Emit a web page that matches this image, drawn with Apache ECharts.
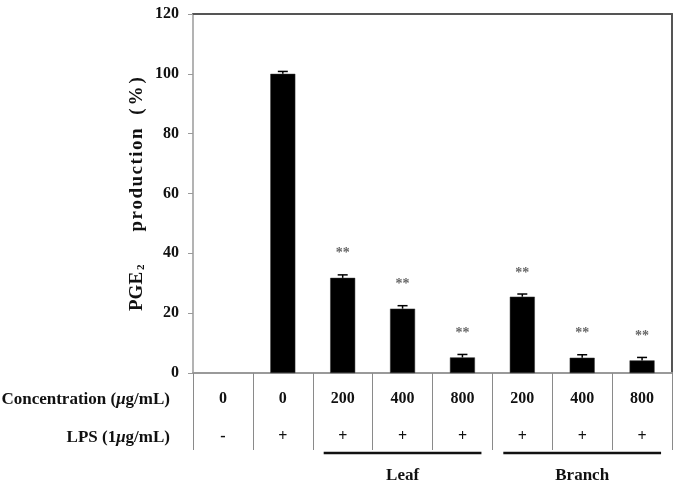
<!DOCTYPE html>
<html><head><meta charset="utf-8">
<script src="https://cdn.jsdelivr.net/npm/echarts@6/dist/echarts.min.js"></script>
<style>html,body{margin:0;padding:0;background:#fff}#c{width:676px;height:486px}</style>
</head><body><div id="c"></div>
<script>
// ---- data ----
const concentrations = ['0', '0', '200', '400', '800', '200', '400', '800'];
const lps = ['-', '+', '+', '+', '+', '+', '+', '+'];
const values = [null, 100, 31.8, 21.5, 5.2, 25.5, 5.1, 4.2];
const errors = [null, 0.8, 1.0, 1.0, 1.0, 0.9, 1.0, 1.0];
const marks = ['', '', '**', '**', '**', '**', '**', '**'];
const yTickLabels = ['0', '20', '40', '60', '80', '100', '120'];
const groupNames = ['Leaf', 'Branch'];
const groupFrom = [2, 5];
const groupTo = [4, 7];

const SERIF = "'Liberation Serif','Times New Roman',serif";
const chart = echarts.init(document.getElementById('c'), null, {renderer: 'canvas'});

function spaced(str, key) {
  return str.split('').map(c => '{' + key + '|' + c + '}').join('');
}

const option = {
  animation: false,
  backgroundColor: '#fff',
  grid: {left: 193, right: 4, top: 14, bottom: 113, containLabel: false},
  xAxis: [
    {
      type: 'category', data: concentrations, position: 'bottom',
      axisLine: {show: true, lineStyle: {color: '#9a9a9a', width: 2}},
      axisTick: {show: true, interval: 0, length: 77, lineStyle: {color: '#8a8a8a', width: 1}},
      axisLabel: {interval: 0, margin: 18, fontFamily: SERIF, fontWeight: 'bold', fontSize: 16, color: '#111'}
    },
    {
      type: 'category', data: lps, position: 'bottom', offset: 0,
      axisLine: {show: false}, axisTick: {show: false},
      axisLabel: {interval: 0, margin: 56, fontFamily: SERIF, fontWeight: 'bold', fontSize: 16, color: '#111'}
    },
    {
      type: 'category', data: concentrations, position: 'top',
      axisLine: {show: true, lineStyle: {color: '#555', width: 2}},
      axisTick: {show: false}, axisLabel: {show: false}
    }
  ],
  yAxis: [
    {
      type: 'value', min: 0, max: 120, interval: 20, position: 'left',
      splitLine: {show: false},
      axisLine: {show: true, lineStyle: {color: '#9a9a9a', width: 1.5}},
      axisTick: {show: true, length: 5, lineStyle: {color: '#9a9a9a'}},
      axisLabel: {
        margin: 14, fontFamily: SERIF, fontWeight: 'bold', fontSize: 16, color: '#111',
        formatter: (v) => yTickLabels[Math.round(v / 20)]
      }
    },
    {
      type: 'value', min: 0, max: 120, interval: 20, position: 'right',
      splitLine: {show: false},
      axisLine: {show: true, lineStyle: {color: '#555', width: 2}},
      axisTick: {show: false}, axisLabel: {show: false}
    }
  ],
  series: [
    {
      type: 'bar', xAxisIndex: 0, yAxisIndex: 0, data: values, barWidth: 25,
      itemStyle: {color: '#000', borderColor: '#333', borderWidth: 0.5}
    },
    {
      type: 'custom', xAxisIndex: 0, yAxisIndex: 0,
      data: values.map((v, i) => [i, v == null ? 0 : v]),
      renderItem: function (params, api) {
        const i = params.dataIndex;
        const v = values[i];
        if (v == null) return null;
        const e = errors[i];
        const base = api.coord([i, v]);
        const top = api.coord([i, v + e]);
        const children = [
          {type: 'line', shape: {x1: base[0], y1: base[1], x2: top[0], y2: top[1]}, style: {stroke: '#000', lineWidth: 1.5}},
          {type: 'line', shape: {x1: top[0] - 5, y1: top[1], x2: top[0] + 5, y2: top[1]}, style: {stroke: '#000', lineWidth: 1.5}}
        ];
        if (marks[i]) {
          children.push({
            type: 'text',
            style: {x: top[0], y: top[1] - 21, text: marks[i], fill: '#666', font: 'bold 14px ' + SERIF, textAlign: 'center', textVerticalAlign: 'middle'}
          });
        }
        return {type: 'group', children: children};
      },
      z: 5
    }
  ],
  graphic: [
    {
      type: 'text', x: 137, y: 311, rotation: Math.PI / 2,
      style: {
        text: '{a|PGE}{s|2}',
        textAlign: 'left', textVerticalAlign: 'middle',
        rich: {
          a: {fontFamily: SERIF, fontWeight: 'bold', fontSize: 19, fill: '#111'},
          s: {fontFamily: SERIF, fontWeight: 'bold', fontSize: 11, fill: '#111', padding: [8, 0, 0, 2]}
        }
      }
    },
    {
      type: 'text', x: 137, y: 180, rotation: Math.PI / 2,
      style: {
        text: spaced('production', 'a'),
        textAlign: 'center', textVerticalAlign: 'middle',
        rich: {a: {fontFamily: SERIF, fontWeight: 'bold', fontSize: 19, fill: '#111', padding: [0, 0.75, 0, 0.75]}}
      }
    },
    {
      type: 'text', x: 137, y: 96, rotation: Math.PI / 2,
      style: {
        text: spaced('(%)', 'a'),
        textAlign: 'center', textVerticalAlign: 'middle',
        rich: {a: {fontFamily: SERIF, fontWeight: 'bold', fontSize: 19, fill: '#111', padding: [0, 1.5, 0, 1.5]}}
      }
    },
    {
      type: 'text', x: 170, y: 400,
      style: {
        text: '{a|Concentration (}{m|μ}{a|g/mL)}', textAlign: 'right', textVerticalAlign: 'middle',
        rich: {
          a: {fontFamily: SERIF, fontWeight: 'bold', fontSize: 17, fill: '#111'},
          m: {fontFamily: SERIF, fontWeight: 'bold', fontStyle: 'italic', fontSize: 17, fill: '#111'}
        }
      }
    },
    {
      type: 'text', x: 170, y: 438,
      style: {
        text: '{a|LPS (1}{m|μ}{a|g/mL)}', textAlign: 'right', textVerticalAlign: 'middle',
        rich: {
          a: {fontFamily: SERIF, fontWeight: 'bold', fontSize: 17, fill: '#111'},
          m: {fontFamily: SERIF, fontWeight: 'bold', fontStyle: 'italic', fontSize: 17, fill: '#111'}
        }
      }
    }
  ]
};
chart.setOption(option);

// group underlines and names positioned from the category axis
const extra = [];
for (let g = 0; g < groupNames.length; g++) {
  const a = chart.convertToPixel({xAxisIndex: 0}, groupFrom[g]);
  const b = chart.convertToPixel({xAxisIndex: 0}, groupTo[g]);
  const x1 = a - 19, x2 = b + 19;
  extra.push({type: 'line', shape: {x1: x1, y1: 453, x2: x2, y2: 453}, style: {stroke: '#111', lineWidth: 2.5}});
  extra.push({
    type: 'text', x: (x1 + x2) / 2, y: 476,
    style: {text: groupNames[g], textAlign: 'center', textVerticalAlign: 'middle', font: 'bold 17px ' + SERIF, fill: '#111'}
  });
}
chart.setOption({graphic: option.graphic.concat(extra)});
</script>
</body></html>
